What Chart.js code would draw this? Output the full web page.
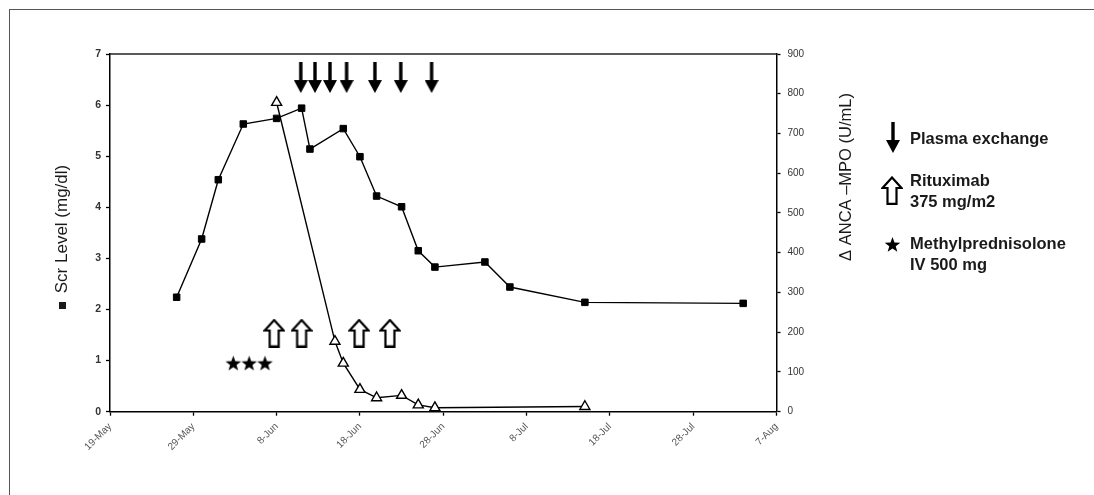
<!DOCTYPE html>
<html>
<head>
<meta charset="utf-8">
<script src="https://cdn.jsdelivr.net/npm/chart.js@4.4.1/dist/chart.umd.min.js"></script>
<style>
  html, body { margin: 0; padding: 0; background: #fff; }
  #wrap { position: relative; width: 1094px; height: 495px; overflow: hidden; font-family: "Liberation Sans", Arial, sans-serif; }
  #frame { position: absolute; left: 9px; top: 9px; width: 1100px; height: 500px; border-top: 1.5px solid #555; border-left: 1.5px solid #555; pointer-events: none; }
  .lg { position: absolute; left: 910px; color: #1a1a1a; font-size: 16.5px; font-weight: bold; line-height: 21px; white-space: nowrap; }
  .sym { position: absolute; }
</style>
</head>
<body>
<div id="wrap">
  <canvas id="chart" width="1094" height="495"></canvas>
  <div id="frame"></div>
  <div class="lg" style="top:128px">Plasma exchange</div>
  <div class="lg" style="top:170px">Rituximab<br>375 mg/m2</div>
  <div class="lg" style="top:233px">Methylprednisolone<br>IV 500 mg</div>
</div>
<script>
// x axis: days counted from 19-May
const xTickLabels = ["19-May", "29-May", "8-Jun", "18-Jun", "28-Jun", "8-Jul", "18-Jul", "28-Jul", "7-Aug"];

// serum creatinine (mg/dl), left axis
const scrDates  = ["27-May", "30-May", "1-Jun", "4-Jun", "8-Jun", "11-Jun", "12-Jun", "16-Jun", "18-Jun",
                   "20-Jun", "23-Jun", "25-Jun", "27-Jun", "3-Jul", "6-Jul", "15-Jul", "3-Aug"];
const scrValues = [2.24, 3.38, 4.54, 5.63, 5.74, 5.94, 5.14, 5.54, 4.99,
                   4.22, 4.01, 3.15, 2.83, 2.93, 2.44, 2.14, 2.12];

// ANCA-MPO (U/mL), right axis
const ancaDates  = ["8-Jun", "15-Jun", "16-Jun", "18-Jun", "20-Jun", "23-Jun", "25-Jun", "27-Jun", "15-Jul"];
const ancaValues = [778, 177, 122, 56, 35, 41, 17, 10, 13];

// treatment markers (day offsets from 19-May, height on the Scr axis)
const plasmaDays = [22.9, 24.6, 26.4, 28.4, 31.8, 34.9, 38.6];
const plasmaLevel = 6.54;
const rituxDays = [19.7, 23.0, 29.9, 33.6];
const rituxLevel = 1.54;
const methylDays = [14.8, 16.7, 18.6];
const methylLevel = 0.95;

const MONTHS = { May: 4, Jun: 5, Jul: 6, Aug: 7 };
function dayOf(label) {
  const [d, m] = label.split("-");
  return (Date.UTC(2013, MONTHS[m], +d) - Date.UTC(2013, 4, 19)) / 86400000;
}

function makeCanvas(w, h, draw) {
  const c = document.createElement("canvas");
  c.width = w; c.height = h;
  draw(c.getContext("2d"), w, h);
  return c;
}
function downArrow() {
  return makeCanvas(14, 31, (g, w, h) => {
    g.fillStyle = "#000";
    g.fillRect(w / 2 - 1.7, 0, 3.4, h - 11);
    g.beginPath();
    g.moveTo(0, h - 13); g.lineTo(w, h - 13); g.lineTo(w / 2, h);
    g.closePath(); g.fill();
  });
}
function openUpArrow() {
  return makeCanvas(22, 29, (g, w, h) => {
    const hw = 4.5, hh = 12;
    g.fillStyle = "#fff"; g.strokeStyle = "#000"; g.lineWidth = 2.2;
    g.beginPath();
    g.moveTo(w / 2, 1.5); g.lineTo(w - 1.5, hh); g.lineTo(w / 2 + hw, hh);
    g.lineTo(w / 2 + hw, h - 1.2); g.lineTo(w / 2 - hw, h - 1.2); g.lineTo(w / 2 - hw, hh);
    g.lineTo(1.5, hh); g.closePath();
    g.fill(); g.stroke();
  });
}
function star() {
  return makeCanvas(17, 17, (g, w, h) => {
    g.fillStyle = "#000";
    g.beginPath();
    for (let i = 0; i < 10; i++) {
      const r = i % 2 ? 3.4 : 8.2;
      const a = -Math.PI / 2 + i * Math.PI / 5;
      const px = w / 2 + r * Math.cos(a), py = h / 2 + 0.7 + r * Math.sin(a);
      i ? g.lineTo(px, py) : g.moveTo(px, py);
    }
    g.closePath(); g.fill();
  });
}

// legend symbols
const wrap = document.getElementById("wrap");
[[downArrow(), 886, 122], [openUpArrow(), 881, 176], [star(), 884, 236]].forEach(([c, l, t]) => {
  c.className = "sym"; c.style.left = l + "px"; c.style.top = t + "px";
  wrap.appendChild(c);
});

const FONT = "'Liberation Sans', Arial, sans-serif";

// top border of the plot area and the two axis titles
const frameAndTitles = {
  id: "frameAndTitles",
  afterDraw(chart) {
    const { ctx, chartArea } = chart;
    ctx.save();
    ctx.strokeStyle = "#222"; ctx.lineWidth = 1.5;
    ctx.beginPath();
    ctx.moveTo(chartArea.left, chartArea.top); ctx.lineTo(chartArea.right, chartArea.top);
    ctx.stroke();

    ctx.fillStyle = "#1a1a1a";
    ctx.textAlign = "center"; ctx.textBaseline = "middle";
    // left title
    ctx.save();
    ctx.translate(62, 229);
    ctx.rotate(-Math.PI / 2);
    ctx.font = "17px " + FONT;
    ctx.fillText("Scr Level (mg/dl)", 0, 0);
    ctx.fillRect(-80, -3, 7, 7);
    ctx.restore();
    // right title
    ctx.save();
    ctx.translate(846, 177);
    ctx.rotate(-Math.PI / 2);
    ctx.font = "16.5px " + FONT;
    ctx.fillText("\u0394 ANCA \u2013MPO (U/mL)", 0, 0);
    ctx.restore();
    ctx.restore();
  }
};

const markerSet = (days, level, img) => ({
  data: days.map(d => ({ x: d, y: level })),
  yAxisID: "y",
  showLine: false,
  pointStyle: img,
  pointRadius: 10
});

new Chart(document.getElementById("chart"), {
  type: "line",
  data: {
    datasets: [
      {
        label: "Scr",
        data: scrDates.map((d, i) => ({ x: dayOf(d), y: scrValues[i] })),
        yAxisID: "y",
        borderColor: "#000", borderWidth: 1.4,
        pointStyle: "rect", pointRadius: 4.6,
        pointBackgroundColor: "#000", pointBorderColor: "#000", pointBorderWidth: 1
      },
      {
        label: "ANCA-MPO",
        data: ancaDates.map((d, i) => ({ x: dayOf(d), y: ancaValues[i] })),
        yAxisID: "y1",
        borderColor: "#000", borderWidth: 1.4,
        pointStyle: "triangle", pointRadius: 5.8,
        pointBackgroundColor: "#fff", pointBorderColor: "#000", pointBorderWidth: 1.4
      },
      markerSet(plasmaDays, plasmaLevel, downArrow()),
      markerSet(rituxDays, rituxLevel, openUpArrow()),
      markerSet(methylDays, methylLevel, star())
    ]
  },
  options: {
    responsive: false,
    animation: false,
    events: [],
    layout: { padding: { top: 54, left: 0, right: 0, bottom: 0 } },
    plugins: { legend: { display: false }, tooltip: { enabled: false } },
    scales: {
      x: {
        type: "linear", min: 0, max: 80,
        afterFit: s => { s.height = 83.3; },
        grid: { drawOnChartArea: false, color: "#000", tickLength: 4, tickWidth: 1.3 },
        border: { color: "#000", width: 1.5 },
        ticks: {
          stepSize: 10, autoSkip: false, minRotation: 45, maxRotation: 45, padding: 5,
          color: "#555", font: { family: FONT, size: 10 },
          callback: v => xTickLabels[v / 10]
        }
      },
      y: {
        position: "left", min: 0, max: 7,
        afterFit: s => { s.width = 110; },
        grid: { drawOnChartArea: false, color: "#000", tickLength: 4, tickWidth: 1.3 },
        border: { color: "#000", width: 1.5 },
        ticks: { stepSize: 1, padding: 5, color: "#333", font: { family: FONT, size: 10.5, weight: "bold" } }
      },
      y1: {
        position: "right", min: 0, max: 900,
        afterFit: s => { s.width = 1094 - 776.5; },
        grid: { drawOnChartArea: false, color: "#000", tickLength: 4, tickWidth: 1.3 },
        border: { color: "#000", width: 1.5 },
        ticks: { stepSize: 100, padding: 7, color: "#333", font: { family: FONT, size: 10 } }
      }
    }
  },
  plugins: [frameAndTitles]
});
</script>
</body>
</html>
